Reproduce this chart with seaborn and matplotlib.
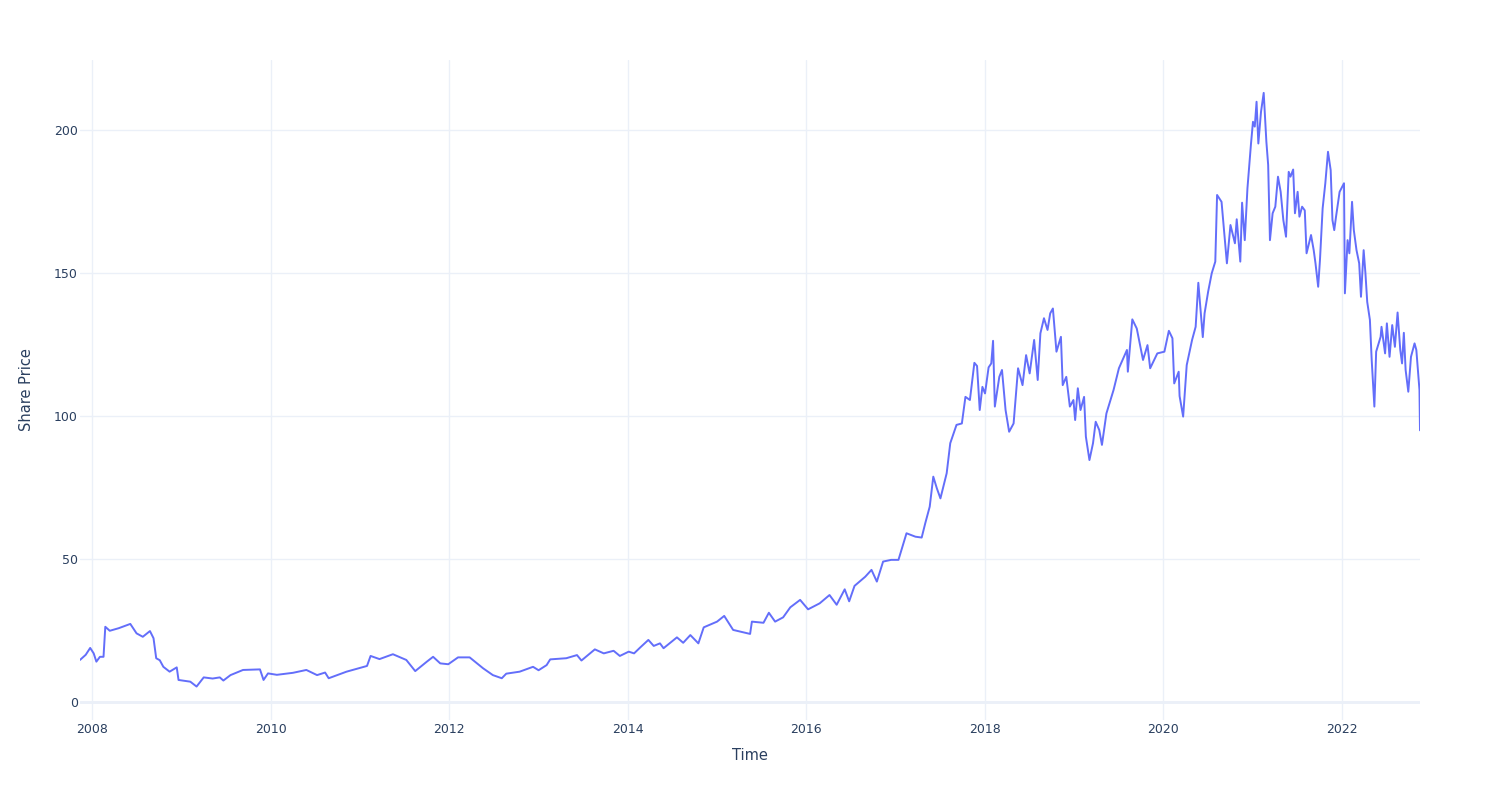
import matplotlib
matplotlib.use("Agg")

import matplotlib.dates as mdates
import matplotlib.pyplot as plt
import pandas as pd
import seaborn as sns

LINE_COLOR = "#636efa"
GRID_COLOR = "#ebf0f8"
TEXT_COLOR = "#2a3f5f"

# share price, split by period (decimal year, price)
years_early = [
    2007.866, 2007.93, 2007.98, 2008.02, 2008.05, 2008.09, 2008.13, 2008.15, 2008.2, 2008.3,
    2008.43, 2008.5, 2008.57, 2008.65, 2008.69, 2008.72, 2008.76, 2008.8, 2008.87, 2008.95,
    2008.97, 2009.1, 2009.17, 2009.25, 2009.35, 2009.43, 2009.47, 2009.55, 2009.69, 2009.88,
    2009.92, 2009.97, 2010.07, 2010.25, 2010.4, 2010.52, 2010.61, 2010.65, 2010.85, 2011.08,
    2011.12, 2011.22, 2011.37, 2011.52, 2011.62, 2011.75, 2011.82, 2011.9, 2011.99, 2012.1,
    2012.23, 2012.38, 2012.49, 2012.59, 2012.64, 2012.79, 2012.94, 2013.0, 2013.09, 2013.13,
    2013.31, 2013.43, 2013.48, 2013.63, 2013.73, 2013.84, 2013.91, 2014.01, 2014.07, 2014.14,
    2014.23, 2014.29, 2014.36, 2014.4, 2014.55, 2014.62, 2014.7, 2014.79, 2014.85, 2015.0,
    2015.08, 2015.18, 2015.37, 2015.39, 2015.52, 2015.58, 2015.65, 2015.74, 2015.82, 2015.93,
    2016.02, 2016.15, 2016.26, 2016.34, 2016.43, 2016.48, 2016.54, 2016.66, 2016.73, 2016.79,
    2016.86, 2016.95, 2017.03, 2017.12, 2017.22, 2017.29, 2017.33, 2017.38, 2017.42, 2017.46,
    2017.5, 2017.57, 2017.61, 2017.68,
]
prices_early = [
    14.7, 16.5, 18.9, 17.0, 14.1, 15.8, 15.8, 26.3, 24.9, 25.8,
    27.3, 24.0, 22.8, 24.8, 22.3, 15.3, 14.6, 12.3, 10.6, 12.1,
    7.7, 7.1, 5.4, 8.6, 8.2, 8.6, 7.5, 9.4, 11.2, 11.4,
    7.7, 10.0, 9.5, 10.2, 11.2, 9.4, 10.3, 8.3, 10.6, 12.6,
    16.1, 15.0, 16.7, 14.7, 10.8, 14.1, 15.8, 13.5, 13.2, 15.6,
    15.6, 11.8, 9.4, 8.3, 9.9, 10.6, 12.3, 11.1, 12.9, 14.9,
    15.3, 16.4, 14.5, 18.4, 17.0, 17.9, 16.1, 17.6, 17.0, 19.1,
    21.7, 19.6, 20.5, 18.8, 22.6, 20.7, 23.4, 20.5, 26.1, 28.1,
    30.1, 25.2, 23.8, 28.1, 27.7, 31.2, 28.1, 29.6, 33.1, 35.7,
    32.4, 34.5, 37.4, 34.0, 39.4, 35.2, 40.6, 43.8, 46.2, 42.1,
    49.1, 49.7, 49.7, 59.0, 57.8, 57.5, 62.5, 68.3, 78.8, 74.7,
    71.2, 80.0, 90.5, 96.9,
]

years_2018 = [
    2017.74, 2017.78, 2017.83, 2017.88, 2017.91, 2017.94, 2017.97, 2018.0, 2018.04, 2018.07,
    2018.09, 2018.11, 2018.16, 2018.19, 2018.23, 2018.27, 2018.32, 2018.37, 2018.42, 2018.46,
    2018.5, 2018.55, 2018.59, 2018.62, 2018.66, 2018.7, 2018.73, 2018.76, 2018.8, 2018.85,
    2018.87, 2018.91, 2018.95, 2018.99, 2019.01, 2019.04, 2019.07, 2019.11, 2019.13, 2019.17,
    2019.21, 2019.24, 2019.28, 2019.31, 2019.36, 2019.44, 2019.5,
]
prices_2018 = [
    97.4, 106.7, 105.6, 118.6, 117.5, 102.1, 110.2, 107.9, 117.0, 118.4,
    126.3, 103.3, 113.7, 116.1, 102.1, 94.5, 97.4, 116.7, 110.8, 121.3,
    114.9, 126.6, 112.6, 128.9, 134.2, 130.1, 135.9, 137.6, 122.5, 127.7,
    110.8, 113.7, 103.3, 105.6, 98.6, 109.7, 102.1, 106.7, 92.8, 84.6,
    90.5, 98.0, 95.1, 89.9, 100.9, 109.1, 116.7,
]

years_2020 = [
    2019.59, 2019.6, 2019.65, 2019.7, 2019.77, 2019.82, 2019.85, 2019.93, 2020.01, 2020.06,
    2020.1, 2020.12, 2020.17, 2020.18, 2020.22, 2020.26, 2020.32, 2020.36, 2020.39, 2020.44,
    2020.46, 2020.5, 2020.54, 2020.58, 2020.6, 2020.65, 2020.71, 2020.75, 2020.8, 2020.82,
    2020.86, 2020.88, 2020.91, 2020.94, 2020.98, 2021.0, 2021.02, 2021.04, 2021.06, 2021.09,
    2021.12, 2021.15, 2021.17, 2021.19, 2021.22, 2021.25, 2021.28, 2021.31, 2021.34,
]
prices_2020 = [
    123.1, 115.5, 133.8, 130.6, 119.6, 124.8, 116.7, 121.9, 122.5, 129.8,
    127.2, 111.4, 115.5, 107.0, 99.8, 117.8, 126.6, 131.2, 146.6, 127.6,
    135.9, 143.5, 149.9, 154.0, 177.3, 174.9, 153.4, 166.8, 160.4, 168.8,
    154.0, 174.6, 161.5, 179.6, 195.3, 202.9, 201.2, 209.9, 195.3, 206.4,
    213.0, 195.9, 187.8, 161.5, 170.9, 173.2, 183.7, 178.4, 168.5,
]

years_late = [
    2021.37, 2021.4, 2021.42, 2021.45, 2021.47, 2021.5, 2021.52, 2021.55, 2021.58, 2021.6,
    2021.65, 2021.68, 2021.7, 2021.73, 2021.75, 2021.78, 2021.81, 2021.84, 2021.87, 2021.89,
    2021.91, 2021.93, 2021.97, 2022.02, 2022.03, 2022.06, 2022.08, 2022.11, 2022.13, 2022.16,
    2022.19, 2022.21, 2022.24, 2022.26, 2022.28, 2022.31, 2022.33, 2022.36, 2022.38, 2022.43,
    2022.44, 2022.48, 2022.5, 2022.53, 2022.56, 2022.59, 2022.62, 2022.65, 2022.67, 2022.69,
    2022.71, 2022.74, 2022.77, 2022.81, 2022.83, 2022.865, 2022.871,
]
prices_late = [
    162.7, 185.4, 183.7, 186.2, 170.9, 178.4, 169.7, 173.2, 171.9, 156.9,
    163.3, 158.0, 153.4, 145.2, 154.5, 172.6, 181.4, 192.4, 186.0, 168.5,
    165.0, 169.7, 178.4, 181.4, 142.9, 161.5, 156.9, 174.9, 165.0, 158.0,
    153.4, 141.7, 158.0, 149.9, 139.9, 133.6, 119.6, 103.3, 122.5, 127.7,
    131.2, 121.9, 132.4, 120.7, 131.8, 124.2, 136.2, 123.1, 118.4, 129.1,
    116.1, 108.5, 120.7, 125.4, 123.1, 109.1, 95.0,
]


def year_to_date(y):
    start = pd.Timestamp(int(y), 1, 1)
    return start + pd.Timedelta(days=(y - int(y)) * 365.25)


years = years_early + years_2018 + years_2020 + years_late
prices = prices_early + prices_2018 + prices_2020 + prices_late
assert len(years) == len(prices)

df = pd.DataFrame({
    "Time": [year_to_date(y) for y in years],
    "Share Price": prices,
})

sns.set_theme(style="white")
plt.rcParams["font.family"] = ["DejaVu Sans"]

fig = plt.figure(figsize=(15, 8), dpi=100)
ax = fig.add_axes([80 / 1500, 80 / 800, 1340 / 1500, 660 / 800])

sns.lineplot(
    data=df,
    x="Time",
    y="Share Price",
    color=LINE_COLOR,
    linewidth=1.4,
    estimator=None,
    ax=ax,
)

ax.set_xlim(df["Time"].min(), df["Time"].max())
ax.set_ylim(-6.3, 224.5)
ax.set_yticks([0, 50, 100, 150, 200])
ax.xaxis.set_major_locator(mdates.YearLocator(2))
ax.xaxis.set_major_formatter(mdates.DateFormatter("%Y"))

ax.set_axisbelow(True)
ax.grid(True, color=GRID_COLOR, linewidth=1)
ax.axhline(0, color=GRID_COLOR, linewidth=2, zorder=0.5)
for spine in ax.spines.values():
    spine.set_visible(False)

ax.tick_params(axis="both", length=0, labelsize=9, labelcolor=TEXT_COLOR)
ax.tick_params(axis="x", pad=2.5)
ax.tick_params(axis="y", pad=1.5)

ax.set_xlabel("Time", fontsize=10.5, color=TEXT_COLOR)
ax.xaxis.set_label_coords(0.5, (720 - 756) / 660)
ax.xaxis.label.set_verticalalignment("center")
ax.set_ylabel("Share Price", fontsize=10.5, color=TEXT_COLOR)
ax.yaxis.set_label_coords((27 - 80) / 1340, 0.5)
ax.yaxis.label.set_verticalalignment("center")

fig.savefig("out.png", dpi=100, facecolor="white")
